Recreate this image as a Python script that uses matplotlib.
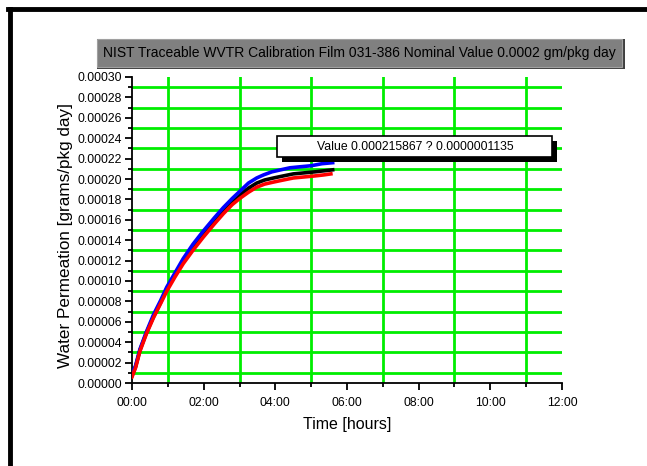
import matplotlib
matplotlib.use('Agg')
import matplotlib.pyplot as plt
from matplotlib.patches import Rectangle
from matplotlib.lines import Line2D
from matplotlib.ticker import MultipleLocator, FuncFormatter

plt.rcParams['font.family'] = ['Liberation Sans', 'DejaVu Sans']

# time in hours, permeation in grams/pkg day
t_blue = [0.0, 0.1, 0.22, 0.4, 0.6, 0.8, 0.97, 1.2, 1.43, 1.7, 1.99, 2.3, 2.55, 2.8, 3.01, 3.25, 3.48, 3.67, 3.9, 4.15, 4.41, 4.7, 5.0, 5.3, 5.6]
v_blue = [9e-6, 17e-6, 33e-6, 50e-6, 67e-6, 81e-6, 94e-6, 108e-6, 122e-6, 136e-6, 149e-6, 162e-6, 172e-6, 181e-6, 188e-6, 196e-6, 201e-6, 204e-6, 207e-6, 209e-6, 211e-6, 212e-6, 213e-6, 215e-6, 216e-6]
t_black = [0.0, 0.1, 0.22, 0.4, 0.6, 0.8, 0.97, 1.2, 1.43, 1.7, 1.99, 2.3, 2.55, 2.8, 3.01, 3.25, 3.48, 3.7, 3.95, 4.22, 4.5, 4.8, 5.1, 5.35, 5.6]
v_black = [7e-6, 16e-6, 32e-6, 49e-6, 65e-6, 79e-6, 92e-6, 106e-6, 119e-6, 132e-6, 145e-6, 158e-6, 168e-6, 177e-6, 184e-6, 191e-6, 196e-6, 199e-6, 201e-6, 203e-6, 205e-6, 206e-6, 207e-6, 208e-6, 209e-6]
t_red = [0.0, 0.1, 0.22, 0.4, 0.6, 0.8, 0.97, 1.2, 1.43, 1.7, 1.99, 2.3, 2.55, 2.8, 3.01, 3.25, 3.48, 3.7, 3.95, 4.22, 4.5, 4.8, 5.1, 5.35, 5.55]
v_red = [6e-6, 15e-6, 31e-6, 48e-6, 64e-6, 78e-6, 90e-6, 104e-6, 117e-6, 130e-6, 143e-6, 156e-6, 166e-6, 175e-6, 181e-6, 187e-6, 192e-6, 195e-6, 197e-6, 199e-6, 201e-6, 202e-6, 203e-6, 204e-6, 205e-6]

title_text = 'NIST Traceable WVTR Calibration Film 031-386 Nominal Value 0.0002 gm/pkg day'
value_text = 'Value 0.000215867 ? 0.0000001135'

W, H = 647, 466


def fx(px):
    return px / W


def fy(py):
    return 1 - py / H


def main():
    fig = plt.figure(figsize=(W / 100, H / 100), dpi=100)
    ax = fig.add_axes([fx(132), fy(383), fx(562) - fx(132), fy(77) - fy(383)])

    ax.plot(t_black, v_black, color='black', lw=2.6, zorder=3)
    ax.plot(t_blue, v_blue, color='blue', lw=2.6, zorder=4)
    ax.plot(t_red, v_red, color='red', lw=2.6, zorder=5)

    ax.set_xlim(0, 12)
    ax.set_ylim(0, 0.0003)
    ax.xaxis.set_major_locator(MultipleLocator(2))
    ax.xaxis.set_minor_locator(MultipleLocator(1))
    ax.yaxis.set_major_locator(MultipleLocator(0.00002))
    ax.yaxis.set_minor_locator(MultipleLocator(0.00001))
    ax.xaxis.set_major_formatter(FuncFormatter(lambda v, p: f'{int(round(v)):02d}:00'))
    ax.yaxis.set_major_formatter(FuncFormatter(lambda v, p: f'{v:.5f}'))

    # green grid only on odd (minor) positions
    for h in range(1, 12, 2):
        ax.axvline(h, color='#00ee00', lw=2, zorder=1)
    for k in range(1, 30, 2):
        ax.axhline(k * 1e-5, color='#00ee00', lw=2, zorder=1)

    for s in ['top', 'right']:
        ax.spines[s].set_visible(False)
    for s in ['left', 'bottom']:
        ax.spines[s].set_linewidth(1.3)
    ax.tick_params(which='major', direction='out', length=5, width=1.3, labelsize=8.8)
    ax.tick_params(which='minor', direction='out', length=3, width=1.3)
    ax.tick_params(axis='x', pad=5)
    ax.tick_params(axis='y', pad=2)

    fig.text(fx(347), fy(425), 'Time [hours]', ha='center', va='center', fontsize=11.5)
    fig.text(fx(66), fy(235), 'Water Permeation [grams/pkg day]', ha='center', va='center',
             rotation=90, fontsize=12.3)

    # title box with shadow
    fig.patches.append(Rectangle((fx(97), fy(69)), fx(625) - fx(97), fy(39) - fy(69),
                                 transform=fig.transFigure, facecolor='#404040', edgecolor='none'))
    fig.patches.append(Rectangle((fx(97), fy(67)), fx(622) - fx(97), fy(39) - fy(67),
                                 transform=fig.transFigure, facecolor='#808080', edgecolor='#a0a0a0', lw=0.8))
    fig.text(fx(359), fy(53), title_text, ha='center', va='center', fontsize=10)

    # value box with shadow
    fig.patches.append(Rectangle((fx(282), fy(162)), fx(557) - fx(282), fy(141) - fy(162),
                                 transform=fig.transFigure, facecolor='black', edgecolor='none', zorder=5))
    fig.patches.append(Rectangle((fx(277), fy(157)), fx(552) - fx(277), fy(136) - fy(157),
                                 transform=fig.transFigure, facecolor='white', edgecolor='black', lw=1.2, zorder=6))
    fig.text(fx(415), fy(147), value_text, ha='center', va='center', fontsize=8.8, zorder=7)

    # page border
    fig.lines.append(Line2D([fx(10), fx(10)], [0, fy(9)], transform=fig.transFigure, color='black', lw=3.5))
    fig.lines.append(Line2D([fx(8.3), 1], [fy(9), fy(9)], transform=fig.transFigure, color='black', lw=3.5))

    fig.savefig('out.png', dpi=100)


if __name__ == '__main__':
    main()
